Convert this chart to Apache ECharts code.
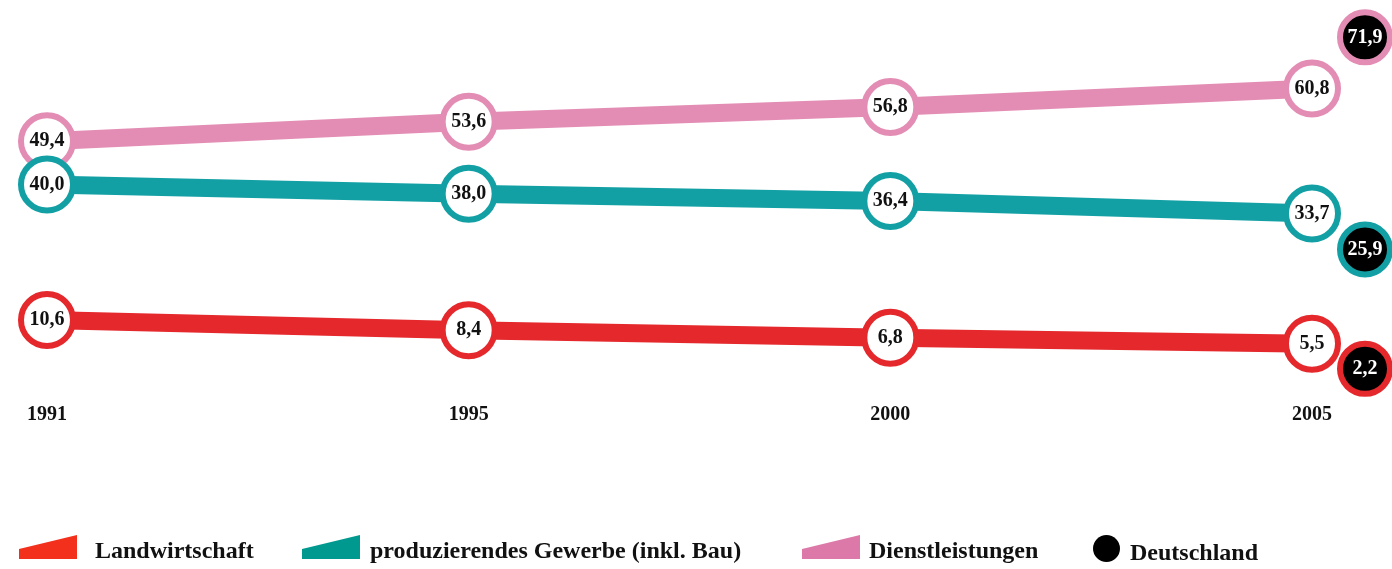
<!DOCTYPE html>
<html>
<head>
<meta charset="utf-8">
<script src="https://cdn.jsdelivr.net/npm/echarts@6/dist/echarts.min.js"></script>
<style>
  html, body { margin: 0; padding: 0; background: #fff; }
  #chart { width: 1392px; height: 569px; }
</style>
</head>
<body>
<div id="chart"></div>
<script>
// data
const years = ['1991', '1995', '2000', '2005'];
const landwirtschaft = [10.6, 8.4, 6.8, 5.5];
const gewerbe = [40.0, 38.0, 36.4, 33.7];
const dienstleistungen = [49.4, 53.6, 56.8, 60.8];
const deutschland = [71.9, 25.9, 2.2]; // Dienst, Gewerbe, Landw in 2005

const RED = '#e4282c', TEAL = '#13a0a5', PINK = '#e38db5';
const serif = '"Liberation Serif", "DejaVu Serif", serif';
const fmt = v => v.toFixed(1).replace('.', ',');

function lineSeries(name, data, color) {
    return {
        name: name,
        type: 'line',
        data: data,
        symbol: 'circle',
        symbolSize: 52,
        lineStyle: { color: color, width: 18, opacity: 1 },
        itemStyle: { color: '#fff', borderColor: color, borderWidth: 6, opacity: 1 },
        label: {
            show: true, position: 'inside',
            formatter: p => fmt(p.value),
            color: '#111', fontFamily: serif, fontWeight: 'bold', fontSize: 20
        },
        emphasis: { disabled: true },
        animation: false
    };
}

// one legend per entry so each sits where the picture has it
function legendFor(name, left, fill, gap, icon, w, h) {
    return {
        data: [{ name: name, icon: icon, itemStyle: { color: fill, borderWidth: 0, opacity: 1 } }],
        left: left, top: 535, padding: 0,
        itemWidth: w, itemHeight: h,
        selectedMode: false,
        formatter: '{a|{name}}',
        textStyle: {
            rich: { a: { padding: [10, 0, 0, gap], fontFamily: serif, fontWeight: 'bold', fontSize: 24, color: '#111' } }
        }
    };
}
const wedge = 'path://M0,14 L58,0 L58,24 L0,24 Z';

let ec = echarts.init(document.getElementById('chart'));
ec.setOption({
    backgroundColor: '#fff',
    animation: false,
    grid: { left: 47, right: 80, top: 0, bottom: 200 },
    xAxis: {
        type: 'category', data: years, boundaryGap: false,
        axisLine: { show: false }, axisTick: { show: false }, splitLine: { show: false },
        axisLabel: { margin: 36, color: '#111', fontFamily: serif, fontWeight: 'bold', fontSize: 20 }
    },
    yAxis: { type: 'value', min: 0, max: 80, show: false },
    legend: [
        legendFor('Landwirtschaft', 19, '#f3301c', 13, wedge, 58, 24),
        legendFor('produzierendes Gewerbe (inkl. Bau)', 302, '#00998f', 5, wedge, 58, 24),
        legendFor('Dienstleistungen', 802, '#dc79a8', 4, wedge, 58, 24),
        legendFor('Deutschland', 1093, '#000', 5, 'circle', 27, 27)
    ],
    series: [
        lineSeries('Dienstleistungen', dienstleistungen, PINK),
        lineSeries('produzierendes Gewerbe (inkl. Bau)', gewerbe, TEAL),
        lineSeries('Landwirtschaft', landwirtschaft, RED),
        {
            name: 'Deutschland',
            type: 'scatter',
            data: [
                { value: ['2005', deutschland[0]], itemStyle: { borderColor: PINK } },
                { value: ['2005', deutschland[1]], itemStyle: { borderColor: TEAL } },
                { value: ['2005', deutschland[2]], itemStyle: { borderColor: RED }, symbolOffset: [53, 10] }
            ],
            symbol: 'circle',
            symbolSize: 50,
            symbolOffset: [53, 0],
            itemStyle: { color: '#000', borderColor: '#000', borderWidth: 6, opacity: 1 },
            label: {
                show: true, position: 'inside',
                formatter: p => fmt(p.value[1]),
                color: '#fff', fontFamily: serif, fontWeight: 'bold', fontSize: 20
            },
            clip: false,
            emphasis: { disabled: true }
        }
    ]
});
</script>
</body>
</html>
